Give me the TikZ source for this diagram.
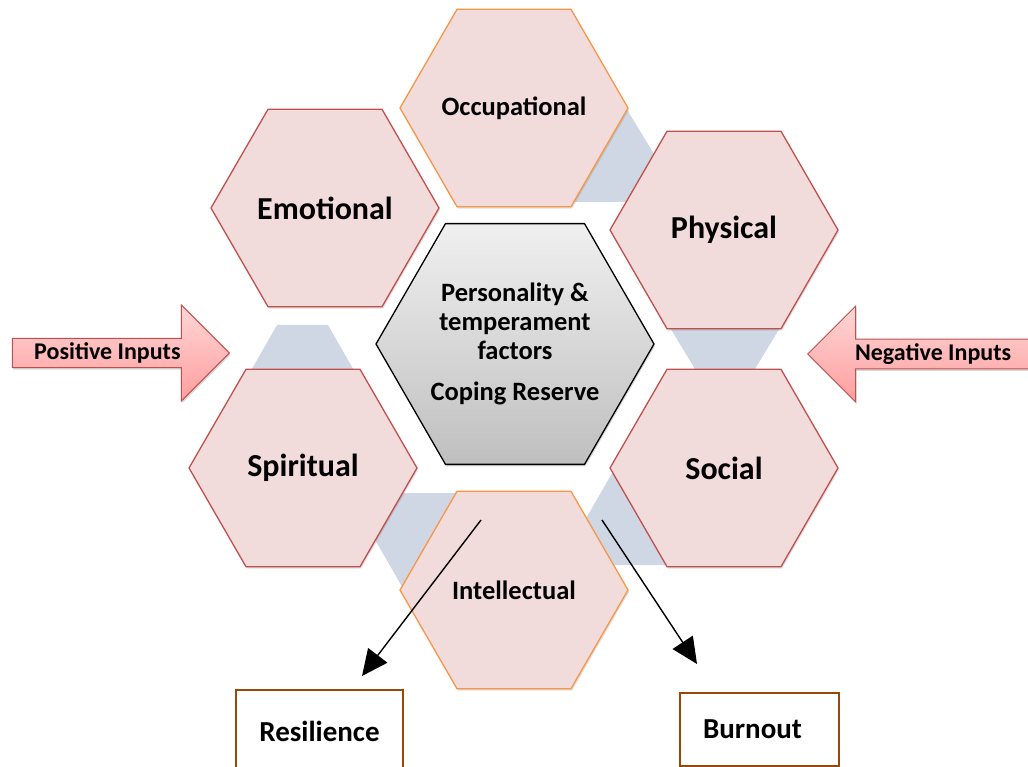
\documentclass[tikz,border=0pt]{standalone}
\usepackage{fontspec}
\setmainfont{Carlito}
\usepackage{tikz}
\usetikzlibrary{shapes.geometric, shapes.arrows, arrows.meta, shadows}

\definecolor{hexfill}{HTML}{F2DCDB}
\definecolor{hexred}{HTML}{C0504D}
\definecolor{hexorange}{HTML}{F79646}
\definecolor{bandblue}{HTML}{CFD7E4}
\definecolor{boxbrown}{HTML}{984807}
\definecolor{inlight}{HTML}{FFD6D6}
\definecolor{indark}{HTML}{FF9E9E}

\begin{document}
\begin{tikzpicture}[
    x=1pt, y=-1pt,
    hexcell/.style={regular polygon, regular polygon sides=6, minimum size=228pt, inner sep=0pt,
        inner xsep=-30pt, draw=hexred, line width=1.3pt, fill=hexfill, align=center,
        font=\bfseries\fontsize{32}{38}\selectfont,
        drop shadow={opacity=0.25, shadow xshift=1pt, shadow yshift=-2pt}},
    hexwork/.style={hexcell, draw=hexorange, font=\bfseries\fontsize{26.5}{31}\selectfont},
    core/.style={regular polygon, regular polygon sides=6, minimum size=278pt, inner sep=0pt,
        draw=black, line width=1.3pt, top color=gray!12, bottom color=gray!50, align=center,
        font=\bfseries\fontsize{26.5}{29}\selectfont,
        drop shadow={opacity=0.3, shadow xshift=1pt, shadow yshift=-2pt}},
    inarrow/.style={single arrow, single arrow head extend=24.5pt, minimum width=96pt,
        single arrow head indent=0pt, inner sep=0pt, draw=hexred, line width=1pt,
        top color=inlight, bottom color=indark, font=\bfseries\fontsize{24}{28}\selectfont,
        drop shadow={opacity=0.3, shadow xshift=1pt, shadow yshift=-2pt}},
    outcome/.style={rectangle, draw=boxbrown, line width=1.4pt, fill=white,
        font=\bfseries\fontsize{29}{34}\selectfont},
    arrow/.style={-{Triangle[length=26pt, width=24pt]}, line width=1.4pt}
]
\useasboundingbox (0,0) rectangle (1028,767);
\clip (0,0) rectangle (1028,767);

% connecting bands behind the ring
\fill[bandblue] (597,60) -- (683,202) -- (570,202) -- cycle;
\fill[bandblue] (669,326) -- (781,326) -- (752,374) -- (698,374) -- cycle;
\fill[bandblue] (348,493) -- (480,493) -- (480,590) -- (404,590) -- cycle;
\fill[bandblue] (640,425) -- (720,425) -- (720,565) -- (559,565) -- cycle;
\fill[bandblue] (277,325) -- (328,325) -- (356,374) -- (249,374) -- cycle;

% the six wellness domains
\node[hexwork] (occup) at (514,108) {Occupational};
\node[hexcell] (phys) at (724,230) {Physical};
\node[hexcell] (social) at (724,468) {Social};
\node[hexwork] (intel) at (514,590) {Intellectual};
\node[hexcell] (spirit) at (303,468) {Spiritual};
\node[hexcell] (emot) at (325,208) {Emotional};

% centre
\node[core] (reserve) at (515,344) {Personality \&\\temperament\\factors\\[12pt]Coping Reserve};

% inputs
\node[inarrow, minimum height=217pt, anchor=tip] (posin) at (230,353) {Positive Inputs\hspace*{12pt}};
\node[inarrow, minimum height=236pt, shape border rotate=180, anchor=tip] (negin) at (807,354) {Negative Inputs};

% outcomes
\node[outcome, minimum width=167pt, minimum height=82pt] (resil) at (319.5,731) {Resilience};
\node[outcome, minimum width=159pt, minimum height=73pt] (burn) at (759.5,729.5) {\raisebox{-3pt}{Burnout}\hspace*{14pt}};

\coordinate (resStart) at (481,520);
\coordinate (resTip) at (362,676);
\coordinate (burnStart) at (602,520);
\coordinate (burnTip) at (697,664);
\draw[arrow] (resStart) -- (resTip);
\draw[arrow] (burnStart) -- (burnTip);
\end{tikzpicture}
\end{document}
